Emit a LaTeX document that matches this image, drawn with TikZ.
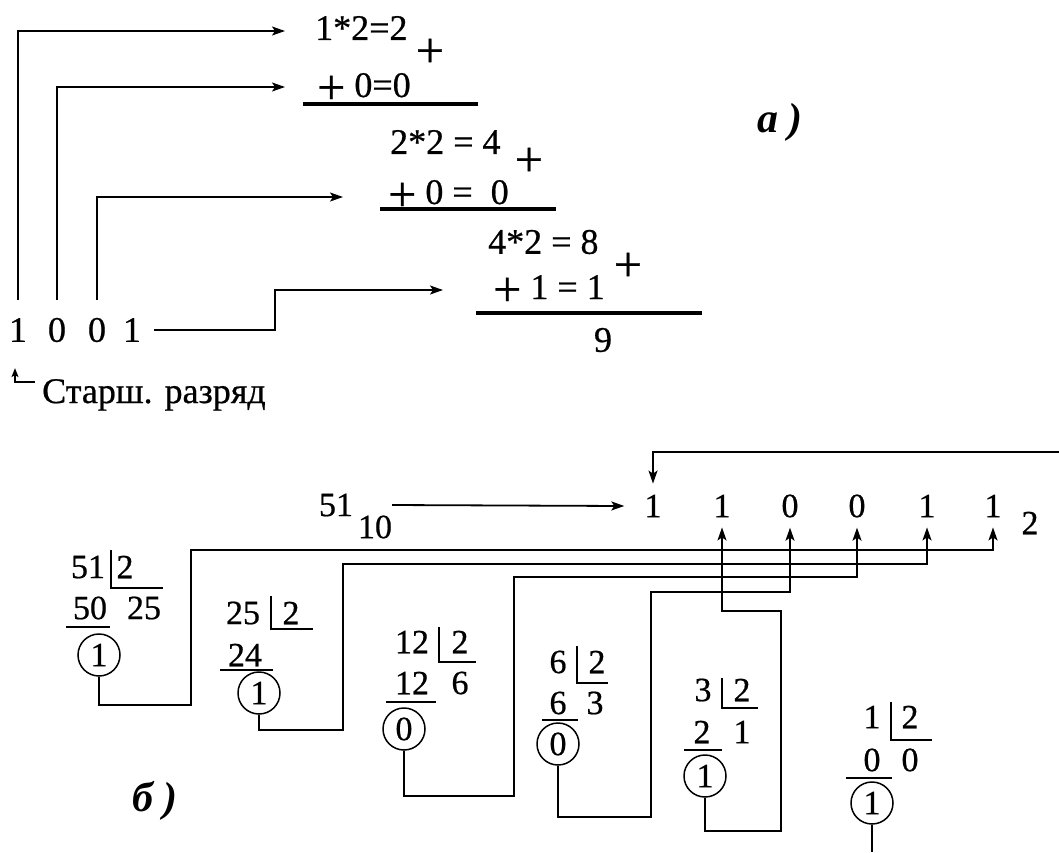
\documentclass[tikz,border=0pt]{standalone}
\usepackage{fontspec}
\setmainfont{LiberationSerif}[
  Extension=.ttf,
  UprightFont=*-Regular,
  UprightFeatures={FakeBold=0.6},
  BoldFont=*-Bold,
  ItalicFont=*-Italic,
  BoldItalicFont=*-BoldItalic]
\usetikzlibrary{arrows.meta}
% a plus sign sized like the one in the worked sums
\newcommand\sumplus{\raisebox{-7pt}{\fontsize{50}{50}\selectfont +}}
\begin{document}
\begin{tikzpicture}[x=1pt,y=-1pt,
  conn/.style={line width=1.8pt},
  arr/.style={conn,-{Stealth[length=13pt,width=9pt,inset=3pt]}},
  arrsmall/.style={line width=1.4pt,-{Stealth[length=9pt,width=7pt,inset=2pt]}},
  numa/.style={inner sep=0pt,font=\fontsize{36}{40}\selectfont},
  numb/.style={inner sep=0pt,font=\fontsize{34}{38}\selectfont},
  plusmark/.style={inner sep=0pt,font=\fontsize{50}{50}\selectfont},
  rem/.style={numb,circle,draw,line width=1.5pt,minimum size=42pt},
  sumline/.style={line width=3.5pt},
  divline/.style={line width=1.8pt},
  lbl/.style={inner sep=0pt,font=\fontsize{42}{46}\selectfont\bfseries\itshape},
]
\useasboundingbox (0,0) rectangle (1059,852);

% ---------- a) binary 1001 to decimal by doubling ----------
\node[numa] (a1) at (18,330) {1};
\node[numa] (a2) at (57,330) {0};
\node[numa] (a3) at (97,330) {0};
\node[numa] (a4) at (132,330) {1};
\node[numa,anchor=base west] (s) at (42,403) {Старш. разряд};

\node[numa,anchor=west] (e1) at (315,28) {1*2=2};
\node[plusmark] (p1) at (430,53) {+};
\node[numa,anchor=base west] (e2) at (317,97) {\sumplus\ 0=0};
\draw[sumline] (303,104) -- (478,104);
\node[numa,anchor=west] (e3) at (390,142) {2*2 = 4};
\node[plusmark] (p2) at (529,162) {+};
\node[numa,anchor=base west] (e4) at (388,204) {\sumplus\ 0 =\ \ 0};
\draw[sumline] (380,209) -- (556,209);
\node[numa,anchor=west] (e5) at (488,242) {4*2 = 8};
\node[plusmark] (p3) at (628,267) {+};
\node[numa,anchor=base west] (e6) at (493,299) {\sumplus\ 1 = 1};
\draw[sumline] (476,313) -- (702,313);
\node[numa] (res) at (603,340) {9};
\node[lbl] (la) at (780,122) {а )};

\draw[arr] ([yshift=18pt]a1.north) |- ([xshift=-30pt,yshift=-3pt]e1.west);
\draw[arr] ([yshift=18pt]a2.north) |- ([xshift=-32pt,yshift=10pt]e2.base west);
\draw[arr] ([yshift=18pt]a3.north) |- ([xshift=-45pt,yshift=7pt]e4.base west);
\coordinate (k4) at (275,290);
\draw[arr] ([xshift=13pt]a4.east) -| (k4) -- ([xshift=-50pt,yshift=9pt]e6.base west);
\draw[arrsmall] ([xshift=-7pt,yshift=21pt]s.base west) -| ([xshift=-3pt,yshift=-26pt]a1.south);

% ---------- b) decimal 51 to binary by halving ----------
\node[numb] (n51) at (336,505) {51};
\node[numb] (n10) at (375,527) {10};
\node[numb] (b1) at (653,506) {1};
\node[numb] (b2) at (722,506) {1};
\node[numb] (b3) at (790,506) {0};
\node[numb] (b4) at (857,506) {0};
\node[numb] (b5) at (927,506) {1};
\node[numb] (b6) at (993,506) {1};
\node[numb] (base2) at (1030,523) {2};
\node[lbl] (lb) at (155,801) {б )};

\draw[arr] (n10.east |- n51.east) -- ([xshift=-20pt]b1.west);
\coordinate (edge) at (1059,452);
\draw[arr] (edge) -| ([yshift=11pt]b1.north);

% bus levels
\coordinate (h1) at (0,550);
\coordinate (h2) at (0,564);
\coordinate (h3) at (0,577);
\coordinate (h4) at (0,592);
\coordinate (h5) at (0,611);
\coordinate (bot) at (0,852);

% division 51 : 2
\node[numb] (q1) at (88,567) {51};
\node[numb] (d1) at (125,567) {2};
\draw[divline] (111,550) |- (163,588);
\node[numb] (m1) at (90,608) {50};
\node[numb] (o1) at (144,608) {25};
\draw[divline] (66,627) -- (110,627);
\node[rem] (r1) at (99,655) {1};

% division 25 : 2
\node[numb] (q2) at (243,613) {25};
\node[numb] (d2) at (291,613) {2};
\draw[divline] (271,596) |- (313,629);
\node[numb] (m2) at (245,655) {24};
\draw[divline] (220,670) -- (273,670);
\node[rem] (r2) at (259,693) {1};

% division 12 : 2
\node[numb] (q3) at (412,642) {12};
\node[numb] (d3) at (460,642) {2};
\draw[divline] (439,627) |- (476,662);
\node[numb] (m3) at (412,683) {12};
\node[numb] (o3) at (460,683) {6};
\draw[divline] (386,702) -- (436,702);
\node[rem] (r3) at (404,729) {0};

% division 6 : 2
\node[numb] (q4) at (558,662) {6};
\node[numb] (d4) at (597,662) {2};
\draw[divline] (577,646) |- (608,683);
\node[numb] (m4) at (558,703) {6};
\node[numb] (o4) at (595,703) {3};
\draw[divline] (542,720) -- (578,720);
\node[rem] (r4) at (558,744) {0};

% division 3 : 2
\node[numb] (q5) at (703,690) {3};
\node[numb] (d5) at (742,690) {2};
\draw[divline] (722,678) |- (758,708);
\node[numb] (m5) at (702,732) {2};
\node[numb] (o5) at (742,732) {1};
\draw[divline] (684,750) -- (722,750);
\node[rem] (r5) at (705,776) {1};

% division 1 : 2
\node[numb] (q6) at (872,717) {1};
\node[numb] (d6) at (910,717) {2};
\draw[divline] (891,702) |- (932,740);
\node[numb] (m6) at (872,760) {0};
\node[numb] (o6) at (910,760) {0};
\draw[divline] (846,778) -- (892,778);
\node[rem] (r6) at (872,803) {1};

% remainders carried up to their binary digits
\draw[arr] (r1.south) |- (191,705) |- (h1 -| b6) -- ([yshift=-10pt]b6.south);
\draw[arr] (r2.south) |- (343,730) |- (h2 -| b5) -- ([yshift=-10pt]b5.south);
\draw[arr] (r3.south) |- (514,796) |- (h3 -| b4) -- ([yshift=-10pt]b4.south);
\draw[arr] (r4.south) |- (651,817) |- (h4 -| b3) -- ([yshift=-10pt]b3.south);
\draw[arr] (r5.south) |- (781,831) |- (h5 -| b2) -- ([yshift=-10pt]b2.south);
\draw[conn] (r6.south) -- (r6.south |- bot);
\end{tikzpicture}
\end{document}
